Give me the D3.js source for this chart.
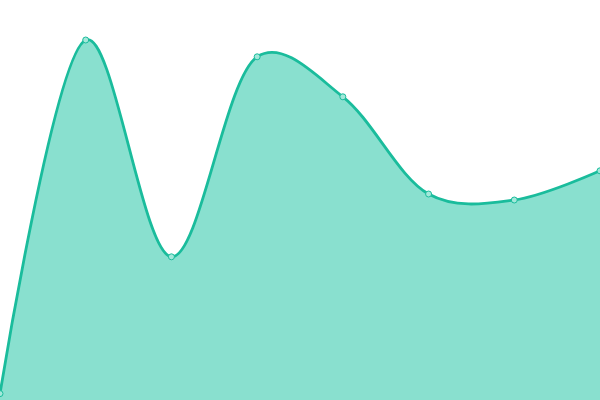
<!DOCTYPE html>
<html>
<head>
<meta charset="utf-8">
<script src="https://cdn.jsdelivr.net/npm/d3@7"></script>
<style>
  html, body { margin: 0; padding: 0; background: #fff; }
  svg { display: block; }
</style>
</head>
<body>
<div class="area-chart"></div>
<script>
// data
const categories = [0, 1, 2, 3, 4, 5, 6, 7];
const values = [1.6, 90, 35.8, 85.8, 75.8, 51.5, 50, 57.3];

const width = 600;
const height = 400;

const svg = d3.select(".area-chart")
                .append("svg")
                .attr("width", width)
                .attr("height", height);

let xScale = d3.scalePoint()
                .domain(categories)
                .range([0, width]);

let yScale = d3.scaleLinear()
                .domain([0, 100])
                .range([height, 0]);

const data = categories.map((c, i) => ({cat: c, value: values[i]}));

const curve = d3.curveCatmullRom.alpha(0.25);

let area = d3.area()
            .x(d => xScale(d.cat))
            .y0(yScale(0))
            .y1(d => yScale(d.value))
            .curve(curve);

let line = d3.line()
            .x(d => xScale(d.cat))
            .y(d => yScale(d.value))
            .curve(curve);

svg.append("path")
    .datum(data)
    .attr("d", area)
    .attr("fill", "#89e0cf");

svg.append("path")
    .datum(data)
    .attr("d", line)
    .attr("fill", "none")
    .attr("stroke", "#1abc9c")
    .attr("stroke-width", 2.8);

svg.selectAll("circle")
    .data(data)
    .join("circle")
    .attr("cx", d => xScale(d.cat))
    .attr("cy", d => yScale(d.value))
    .attr("r", 3)
    .attr("fill", "#a3e8da")
    .attr("stroke", "#1abc9c")
    .attr("stroke-width", 1);
</script>
</body>
</html>
